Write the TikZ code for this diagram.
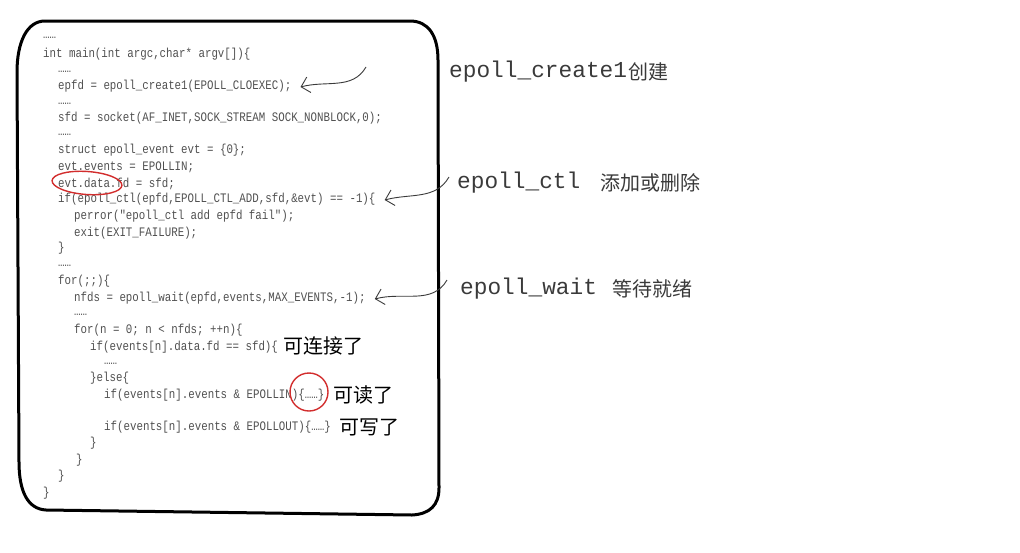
\documentclass[tikz,border=0pt]{standalone}
\usepackage{fontspec}
\newfontfamily\codefont[FakeStretch=0.83]{Liberation Mono}
\newfontfamily\labelfont{Liberation Mono}
\newfontfamily\cjk{Noto Sans CJK SC}
\usetikzlibrary{arrows.meta}
\definecolor{codegray}{HTML}{505050}
\definecolor{labelgray}{HTML}{3A3A3A}
\definecolor{markred}{RGB}{210,45,45}
\tikzset{
  code/.style={anchor=west, inner sep=0pt, text=codegray, font=\codefont\fontsize{13}{15}\selectfont},
  fnlabel/.style={anchor=west, inner sep=0pt, text=labelgray, font=\labelfont\fontsize{22.8}{26}\selectfont},
  zhlabel/.style={anchor=west, inner sep=0pt, text=labelgray, font=\cjk\fontsize{20}{23}\selectfont},
  zhnote/.style={anchor=west, inner sep=0pt, text=black, font=\cjk\fontsize{20}{24}\selectfont},
  frame/.style={line width=3pt, line join=round},
  arr/.style={draw=labelgray, line width=0.9pt, -{Straight Barb[length=8pt,width=16pt]}},
  redmark/.style={draw=markred, line width=1.4pt}
}
\begin{document}
\begin{tikzpicture}[x=1pt,y=-1pt]
\useasboundingbox (0,0) rectangle (1020,552);
% frame
\draw[frame] (45,21) -- (410,21) .. controls (428,21) and (438,35) .. (438,60)
  -- (439,488) .. controls (439,505) and (430,514) .. (412,515)
  -- (46,510) .. controls (28,509) and (19,492) .. (19,462)
  -- (17,72) .. controls (17,42) and (27,21) .. (45,21) -- cycle;
% code
\node[code] (l1)  at (43,38)  {……};
\node[code] (l2)  at (43,54)  {int main(int argc,char* argv[])\{};
\node[code] (l3)  at (58,72)  {……};
\node[code] (l4)  at (58,86)  {epfd = epoll\_create1(EPOLL\_CLOEXEC);};
\node[code] (l5)  at (58,104) {……};
\node[code] (l6)  at (58,118) {sfd = socket(AF\_INET,SOCK\_STREAM SOCK\_NONBLOCK,0);};
\node[code] (l7)  at (58,135) {……};
\node[code] (l8)  at (58,150) {struct epoll\_event evt = \{0\};};
\node[code] (l9)  at (58,167) {evt.events = EPOLLIN;};
\node[code] (l10) at (58,184) {evt.data.fd = sfd;};
\node[code] (l11) at (58,199) {if(epoll\_ctl(epfd,EPOLL\_CTL\_ADD,sfd,\&evt) == -1)\{};
\node[code] (l12) at (74,216) {perror("epoll\_ctl add epfd fail");};
\node[code] (l13) at (74,233) {exit(EXIT\_FAILURE);};
\node[code] (l14) at (58,248) {\}};
\node[code] (l15) at (58,266) {……};
\node[code] (l16) at (58,281) {for(;;)\{};
\node[code] (l17) at (74,298) {nfds = epoll\_wait(epfd,events,MAX\_EVENTS,-1);};
\node[code] (l18) at (74,315) {……};
\node[code] (l19) at (74,330) {for(n = 0; n < nfds; ++n)\{};
\node[code] (l20) at (90,347) {if(events[n].data.fd == sfd)\{};
\node[code] (l21) at (104,364) {……};
\node[code] (l22) at (90,378) {\}else\{};
\node[code] (l23) at (104,395) {if(events[n].events \& EPOLLIN)\{……\}};
\node[code] (l24) at (104,427) {if(events[n].events \& EPOLLOUT)\{……\}};
\node[code] (l25) at (90,443) {\}};
\node[code] (l26) at (76,460) {\}};
\node[code] (l27) at (58,476) {\}};
\node[code] (l28) at (43,493) {\}};
% notes inside
\node[zhnote] (n1) at (283,346) {可连接了};
\node[zhnote] (n2) at (333,395) {可读了};
\node[zhnote] (n3) at (339,427) {可写了};
% red marks
\draw[redmark, rotate around={-4:(87,183)}] (87,183) ellipse [x radius=35, y radius=11.5];
\draw[redmark] (309,392) circle [radius=19];
% right labels
\node[fnlabel] (f1) at (449,72)  {epoll\_create1};
\node[zhlabel] (z1) at ([xshift=1pt]f1.east) {创建};
\node[fnlabel] (f2) at (457,183) {epoll\_ctl};
\node[zhlabel] (z2) at ([xshift=20pt]f2.east) {添加或删除};
\node[fnlabel] (f3) at (460,289) {epoll\_wait};
\node[zhlabel] (z3) at ([xshift=15pt]f3.east) {等待就绪};
% arrows
\coordinate (s1) at (366,67);
\coordinate (s2) at (449,177);
\coordinate (s3) at (447,280);
\draw[arr] (s1) to[out=240,in=15] ([xshift=9pt,yshift=-1pt]l4.east);
\draw[arr] (s2) to[out=240,in=15] ([xshift=9pt,yshift=-1pt]l11.east);
\draw[arr] (s3) to[out=240,in=15] ([xshift=9pt,yshift=-1pt]l17.east);
\end{tikzpicture}
\end{document}
